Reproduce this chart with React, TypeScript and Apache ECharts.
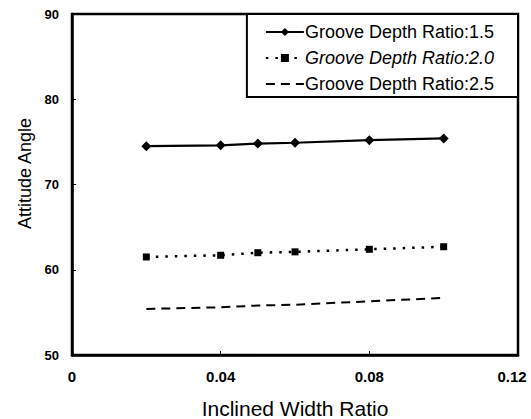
import React, { useEffect, useRef } from "react";
import * as echarts from "echarts";

const xValues = [0.02, 0.04, 0.05, 0.06, 0.08, 0.1];
const depth15 = [74.5, 74.6, 74.8, 74.9, 75.2, 75.4];
const depth20 = [61.5, 61.7, 62.0, 62.1, 62.4, 62.7];
const depth25 = [55.4, 55.6, 55.8, 55.9, 56.3, 56.7];
const seriesNames = [
  "Groove Depth Ratio:1.5",
  "Groove Depth Ratio:2.0",
  "Groove Depth Ratio:2.5",
];
const xTicks = { min: 0, max: 0.12, interval: 0.04 };
const yTicks = { min: 50, max: 90, interval: 10 };
const xTitle = "Inclined Width Ratio";
const yTitle = "Attitude Angle";

const FONT = "'Liberation Sans', Arial, Helvetica, sans-serif";

export default function App() {
  const ref = useRef<HTMLDivElement>(null);
  useEffect(() => {
    if (!ref.current) return;
    const chart = echarts.init(ref.current, undefined, { renderer: "svg" });
    const pairs = (ys: number[]) => xValues.map((x, i) => [x, ys[i]]);
    const tickStyle = {
      fontFamily: FONT,
      fontSize: 15,
      fontWeight: "bold",
      color: "#000",
    };
    chart.setOption({
      animation: false,
      backgroundColor: "#fff",
      textStyle: { fontFamily: FONT, color: "#000" },
      grid: {
        left: 72,
        top: 14,
        right: 13,
        bottom: 64,
        containLabel: false,
        outerBoundsMode: "none",
        show: true,
        borderColor: "#000",
        borderWidth: 2.5,
        backgroundColor: "transparent",
      },
      legend: {
        orient: "vertical",
        right: 13,
        top: 14,
        backgroundColor: "#fff",
        borderColor: "#000",
        borderWidth: 2,
        borderRadius: 0,
        padding: [9, 24, 4, 18],
        itemWidth: 38,
        itemHeight: 10,
        itemGap: 8,
        textStyle: { fontFamily: FONT, fontSize: 18, color: "#000", padding: [0, 0, 0, -4] },
        data: [
          { name: seriesNames[0] },
          { name: seriesNames[1], textStyle: { fontStyle: "italic" } },
          { name: seriesNames[2], itemStyle: { opacity: 0 } },
        ],
      },
      xAxis: {
        type: "value",
        min: xTicks.min,
        max: xTicks.max,
        interval: xTicks.interval,
        name: xTitle,
        nameLocation: "middle",
        nameGap: 43,
        nameTextStyle: { fontFamily: FONT, fontSize: 21, color: "#000" },
        axisLine: { show: true, onZero: false, lineStyle: { color: "#000", width: 2.5 } },
        axisTick: { show: true, inside: true, length: 4, lineStyle: { color: "#000", width: 1 } },
        axisLabel: {
          ...tickStyle,
          margin: 14,
          formatter: (v: number) =>
            v === 0 ? "0" : v >= xTicks.max - 1e-9 ? `{r|${v.toFixed(2)}}` : v.toFixed(2),
          rich: { r: { ...tickStyle, padding: [0, 12, 0, 0] } },
        },
        splitLine: { show: false },
      },
      yAxis: {
        type: "value",
        min: yTicks.min,
        max: yTicks.max,
        interval: yTicks.interval,
        name: yTitle,
        nameLocation: "middle",
        nameGap: 38,
        nameRotate: 90,
        nameTextStyle: { fontFamily: FONT, fontSize: 18, color: "#000", padding: [0, 0, 0, 22] },
        axisLine: { show: true, onZero: false, lineStyle: { color: "#000", width: 2.5 } },
        axisTick: { show: true, inside: true, length: 4, lineStyle: { color: "#000", width: 1 } },
        axisLabel: {
          fontFamily: FONT,
          fontSize: 13,
          fontWeight: "bold",
          color: "#000",
          margin: 13,
        },
        splitLine: { show: false },
      },
      series: [
        {
          name: seriesNames[0],
          type: "line",
          data: pairs(depth15),
          symbol: "diamond",
          symbolSize: 10,
          itemStyle: { color: "#000" },
          lineStyle: { color: "#000", width: 2.2, type: "solid" },
        },
        {
          name: seriesNames[1],
          type: "line",
          data: pairs(depth20),
          symbol: "rect",
          symbolSize: 7,
          itemStyle: { color: "#000" },
          lineStyle: { color: "#000", width: 2.5, type: [2.5, 7] },
        },
        {
          name: seriesNames[2],
          type: "line",
          data: pairs(depth25),
          symbol: "none",
          itemStyle: { color: "#000" },
          lineStyle: { color: "#000", width: 2, type: [9, 6] },
        },
      ],
    });
    return () => chart.dispose();
  }, []);
  return (
    <div
      ref={ref}
      style={{ position: "fixed", left: 0, top: 0, width: 531, height: 419 }}
    />
  );
}
